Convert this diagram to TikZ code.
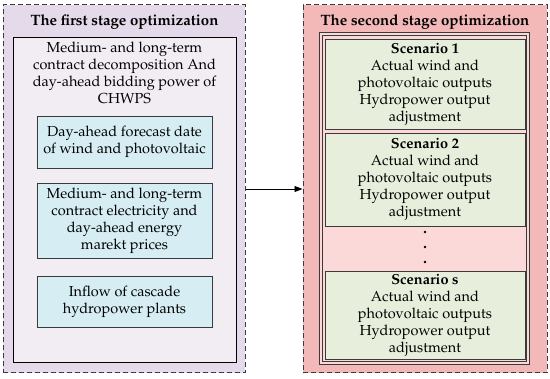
\documentclass[tikz,border=0pt]{standalone}
\usepackage[T1]{fontenc}
\usepackage{mathpazo}
\usetikzlibrary{arrows.meta}
\definecolor{lavOut}{HTML}{E4DAE9}
\definecolor{lavIn}{HTML}{F2ECF3}
\definecolor{cyanBox}{HTML}{D6EEF3}
\definecolor{pinkOut}{HTML}{F3B9B8}
\definecolor{pinkIn}{HTML}{FAD9D8}
\definecolor{greenBox}{HTML}{E7EFDC}
\definecolor{edge}{HTML}{3A3A3A}
\tikzset{
  x=1pt, y=-1pt,
  bodyfont/.style={font=\fontsize{14.5}{17}\selectfont},
  txt/.style={bodyfont, align=center, inner sep=0pt},
  ttl/.style={font=\fontsize{15}{17}\selectfont\bfseries, inner sep=0pt},
  outerbox/.style={draw=edge, dashed, dash pattern=on 5pt off 3pt, line width=1pt, inner sep=0pt},
  infobox/.style={draw=edge, fill=cyanBox, line width=0.8pt, inner sep=0pt, minimum width=175pt, align=center, bodyfont},
  scenbox/.style={draw=edge, fill=greenBox, line width=0.8pt, inner sep=0pt, minimum width=200pt, align=center, bodyfont},
  dotnode/.style={circle, fill=black, inner sep=0pt, minimum size=2.6pt},
}
\begin{document}
\begin{tikzpicture}
\useasboundingbox (0,0) rectangle (550,379);
% left stage
\node[outerbox, fill=lavOut, minimum width=242pt, minimum height=368pt] (L) at (124,189) {};
\node[ttl] (Lt) at (124.5,22) {The first stage optimization};
\node[draw=black, fill=lavIn, line width=1pt, inner sep=0pt, minimum width=223pt, minimum height=325pt] (Li) at (124.5,200.5) {};
\node[txt] (Ltxt) at (124.5,72.5) {Medium- and long-term\\contract decomposition And\\day-ahead bidding power of\\CHWPS};
\node[infobox, minimum height=52pt] (B1) at (124.5,142) {Day-ahead forecast date\\of wind and photovoltaic};
\node[infobox, minimum height=75pt] (B2) at (124.5,220.5) {Medium- and long-term\\contract electricity and\\day-ahead energy\\marekt prices};
\node[infobox, minimum height=51pt] (B3) at (124.5,301.5) {Inflow of cascade\\hydropower plants};
% right stage
\node[outerbox, fill=pinkOut, minimum width=244pt, minimum height=368pt] (R) at (425,189) {};
\node[ttl] (Rt) at (425,22) {The second stage optimization};
\node[draw=edge, double=pinkIn, double distance=1.2pt, line width=1pt, fill=pinkIn, inner sep=0pt, minimum width=207pt, minimum height=329pt] (Ri) at (424.5,198.5) {};
\node[scenbox, minimum height=90pt] (S1) at (425,84) {\textbf{Scenario 1}\\Actual wind and\\photovoltaic outputs\\Hydropower output\\adjustment};
\node[scenbox, minimum height=93pt] (S2) at (425,179.5) {\textbf{Scenario 2}\\Actual wind and\\photovoltaic outputs\\Hydropower output\\adjustment};
\node[dotnode] (d1) at (425,232) {};
\node[dotnode] (d2) at (425,247) {};
\node[dotnode] (d3) at (425,262) {};
\node[scenbox, minimum height=88pt] (Ss) at (425,315) {\textbf{Scenario s}\\Actual wind and\\photovoltaic outputs\\Hydropower output\\adjustment};
% arrow
\draw[line width=0.9pt, -{Triangle[length=8pt, width=6pt]}] (L.east) -- (R.west);
\end{tikzpicture}
\end{document}
